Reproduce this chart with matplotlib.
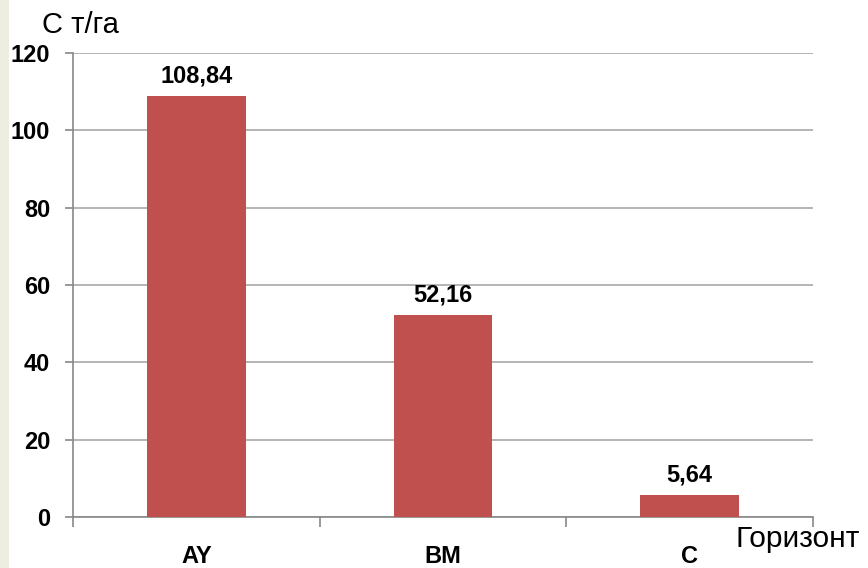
import matplotlib.pyplot as plt
from matplotlib.patches import Rectangle

plt.rcParams['font.family'] = ['Liberation Sans', 'DejaVu Sans']

horizons = ["AY", "BM", "C"]
carbon = [108.84, 52.16, 5.64]
value_labels = ["108,84", "52,16", "5,64"]
y_ticks = [0, 20, 40, 60, 80, 100, 120]

fig = plt.figure(figsize=(8.68, 5.68), dpi=100)
fig.patch.set_facecolor("white")
# light strip along the left edge of the slide
fig.patches.append(Rectangle((0, 0), 9 / 868, 1, transform=fig.transFigure,
                             facecolor="#EDEEDF", edgecolor="none", zorder=0))

ax = fig.add_axes([73 / 868, 51 / 568, 740 / 868, 464 / 568])
x = range(len(horizons))
bars = ax.bar(x, carbon, width=0.4, color="#C0504D", zorder=3)

for b, lab in zip(bars, value_labels):
    ax.annotate(lab, (b.get_x() + b.get_width() / 2, b.get_height()),
                xytext=(0, 10), textcoords="offset points",
                ha="center", va="baseline", fontsize=17, fontweight="bold")

ax.set_xlim(-0.5, 2.5)
ax.set_ylim(0, 120)
ax.set_yticks(y_ticks)
ax.set_yticklabels([str(v) for v in y_ticks], fontsize=17, fontweight="bold")
ax.yaxis.grid(True, color="#A0A0A0", linewidth=1.1, zorder=0)
ax.set_axisbelow(True)

ax.set_xticks([-0.5, 0.5, 1.5, 2.5], minor=False)
ax.set_xticklabels([])
ax.set_xticks(list(x), minor=True)
ax.set_xticklabels(horizons, minor=True, fontsize=17, fontweight="bold")
ax.tick_params(axis="x", which="major", length=7, color="#888888", width=1.2)
ax.tick_params(axis="x", which="minor", length=0, pad=20)
ax.tick_params(axis="y", length=6, color="#888888", width=1.2, pad=10.5)

for s in ["top", "right"]:
    ax.spines[s].set_visible(False)
for s in ["left", "bottom"]:
    ax.spines[s].set_color("#888888")
    ax.spines[s].set_linewidth(1.2)

fig.text(42 / 868, 1 - 25 / 568, "С т/га", fontsize=21, va="center", ha="left")
fig.text(735 / 868, 1 - 539 / 568, "Горизонт", fontsize=21.5, va="center", ha="left")

fig.savefig("out.png", dpi=100)
